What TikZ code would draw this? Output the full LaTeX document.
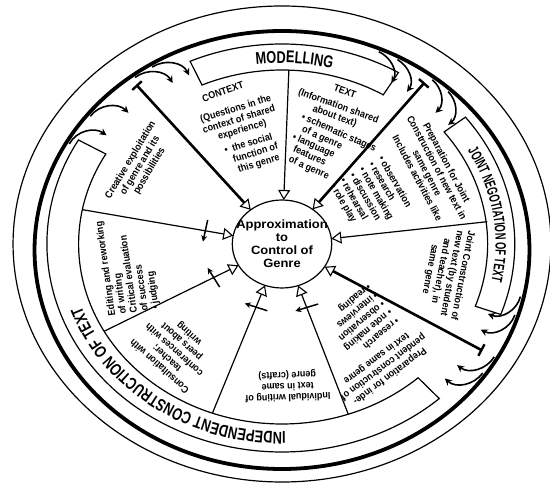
\documentclass[tikz,border=0pt]{standalone}
\usepackage{fontspec}
\setmainfont{Liberation Sans}[FakeStretch=0.9]
\newfontfamily\headfont{Liberation Sans}[FakeStretch=0.75]
\newfontfamily\narrowhead{Liberation Sans}[FakeStretch=0.62]
\newfontfamily\corefont{Liberation Sans}[FakeStretch=1.08]
\usetikzlibrary{arrows.meta,decorations.text}
\begin{document}
\begin{tikzpicture}[x=1pt,y=1pt,
  seg/.style={font=\bfseries\fontsize{10}{11}\selectfont, align=center, inner sep=0pt},
  segl/.style={seg, align=left},
  thinline/.style={line width=1.2pt},
  thickring/.style={line width=3.8pt},
  spoke/.style={line width=1.2pt, -{Triangle[open,length=10pt,width=12pt,line width=1.1pt]}},
  mainspoke/.style={line width=2.6pt, {Bar[width=13pt,line width=2.4pt]}-{Triangle[open,length=10pt,width=12pt,line width=1.1pt]}},
  feedback/.style={line width=1.5pt, -{Stealth[length=6pt,width=6pt]}},
  branch/.style={line width=1.6pt, -{Stealth[length=7pt,width=7pt]}},
]
\useasboundingbox (0,-486) rectangle (550,0);
\fill[white] (0,-486) rectangle (550,0);
\begin{scope}[shift={(282,-244)}, x=1.13pt, y=1pt]
  % outer rings
  \draw[thinline] (0,0) circle[radius=238];
  \draw[thickring] (0,-6) circle[radius=219];

  % phase boxes
  \draw[thinline] (59:174) arc[start angle=59, end angle=114, radius=174]
    -- (114:200) arc[start angle=114, end angle=59, radius=200] -- cycle;
  \draw[thinline] (38:182) arc[start angle=38, end angle=-20, radius=182]
    -- (-20:206) arc[start angle=-20, end angle=38, radius=206] -- cycle;
  \draw[thinline] (-48:180) arc[start angle=-48, end angle=-210, radius=180]
    -- (-210:208) arc[start angle=-210, end angle=-48, radius=208] -- cycle;

  % phase labels along the ring
  \path[decorate, decoration={text along path, text align=center,
      text={|\headfont\bfseries\fontsize{17}{17}\selectfont|MODELLING}}]
    (108:181) arc[start angle=108, end angle=65, radius=181];
  \path[decorate, decoration={text along path, text align=center,
      text={|\narrowhead\bfseries\fontsize{15}{15}\selectfont|JOINT NEGOTIATION OF TEXT}}]
    (36:189) arc[start angle=36, end angle=-18, radius=189];
  \path[decorate, decoration={text along path, text align=left,
      text={|\headfont\bfseries\fontsize{17}{17}\selectfont|INDEPENDENT CONSTRUCTION OF TEXT}}]
    (-89:188) arc[start angle=-89, end angle=-205, radius=188];

  % centre
  \draw[thinline] (0,0) circle[radius=44];
  \node[font=\corefont\bfseries\fontsize{12}{13}\selectfont, align=center] (core) at (0,0)
    {Approximation\\to\\Control of\\Genre};

  % spokes
  \coordinate (s1) at (129:205);
  \coordinate (s2) at (88:174);
  \coordinate (s3) at (52:205);
  \coordinate (s4) at (7:183);
  \coordinate (s5) at (-31:207);
  \coordinate (s6) at (-71:180);
  \coordinate (s7) at (-110:180);
  \coordinate (s8) at (-151:180);
  \coordinate (s9) at (169:180);
  \coordinate (c1) at (129:44);
  \coordinate (c2) at (88:44);
  \coordinate (c3) at (52:44);
  \coordinate (c4) at (7:44);
  \coordinate (c5) at (-31:44);
  \coordinate (c6) at (-71:44);
  \coordinate (c7) at (-110:44);
  \coordinate (c8) at (-151:44);
  \coordinate (c9) at (169:44);
  \draw[mainspoke] (s1) -- (c1);
  \draw[spoke] (s2) -- (c2);
  \draw[mainspoke] (s3) -- (c3);
  \draw[spoke] (s4) -- (c4);
  \draw[mainspoke] (s5) -- (c5);
  \draw[spoke] (s6) -- (c6);
  \draw[spoke] (s7) -- (c7);
  \draw[spoke] (s8) -- (c8);
  \draw[spoke] (s9) -- (c9);

  % feedback arrows crossing the spokes of the independent phase
  \draw[feedback] (-62:68) -- (-80:68);
  \draw[feedback] (-101:68) -- (-119:68);
  \draw[feedback] (-142:70) -- (-160:70);
  \draw[feedback] (160:70) -- (178:70);

  % branches leaving the cycle ring, two on each side of every phase boundary
  \foreach \a in {145,136,121,116,59,54,44,39,-21,-26,-38,-43} {
    \pgfmathsetmacro\s{\a+7}
    \pgfmathsetmacro\o{\s-90}
    \pgfmathsetmacro\rs{216-6*sin(\s)}
    \pgfmathsetmacro\re{193-6*sin(\a)}
    \draw[branch] (\s:\rs) to[out=\o, in=\a] (\a:\re);
  }

  % segment texts
  \node[seg, rotate=19] (ctxh) at (109:161) {CONTEXT};
  \node[seg, rotate=17] (ctxq) at (107:130) {(Questions in the\\context of shared\\experience)};
  \node[seg, rotate=17] (ctxb) at (106:93) {\textbullet\ \begin{tabular}[t]{@{}c@{}}the social\\function of\\this genre\end{tabular}};

  \node[seg, rotate=-20] (txth) at (70:163) {TEXT};
  \node[seg, rotate=-20] (txtq) at (70:141) {(Information shared\\about text)};
  \node[segl, rotate=-24] (txtb) at (65:100) {\textbullet\ schematic stages\\\phantom{\textbullet\ }of a genre\\\textbullet\ language\\\phantom{\textbullet\ }features\\\phantom{\textbullet\ }of a genre};

  \node[seg, rotate=-62] (pjh) at (29:152) {Preparation for Joint\\Construction of new text in\\same genre\\Includes activities like};
  \node[segl, rotate=-60] (pjb) at (31:92) {\textbullet\ observation\\\textbullet\ research\\\textbullet\ note making\\\textbullet\ discussion\\\textbullet\ rehearsal\\\textbullet\ role play};

  \node[seg, rotate=-101] (jc) at (-11:148) {Joint Construction of\\new text (by student\\and teacher), in\\same genre};

  \node[seg, rotate=-143] (pih) at (-54:152) {Preparation for inde-\\pendent construction of\\text in same genre};
  \node[segl, rotate=-140] (pib) at (-48:104) {\textbullet\ research\\\textbullet\ note making\\\textbullet\ observation\\\textbullet\ interviews\\\textbullet\ reading};

  \node[seg, rotate=-178] (iw) at (-88:142) {Individual writing of\\text in same\\genre (crafts)};

  \node[seg, rotate=138] (cons) at (-132:142) {Consultation with\\teacher;\\conferences with\\peers about\\writing};

  \node[segl, rotate=98] (edit) at (189:138) {Editing and reworking\\of writing\\Critical evaluation\\of success\\\textbullet\ judging};

  \node[seg, rotate=59] (crea) at (148:148) {Creative exploitation\\of genre and its\\possibilities};
\end{scope}
\end{tikzpicture}
\end{document}
